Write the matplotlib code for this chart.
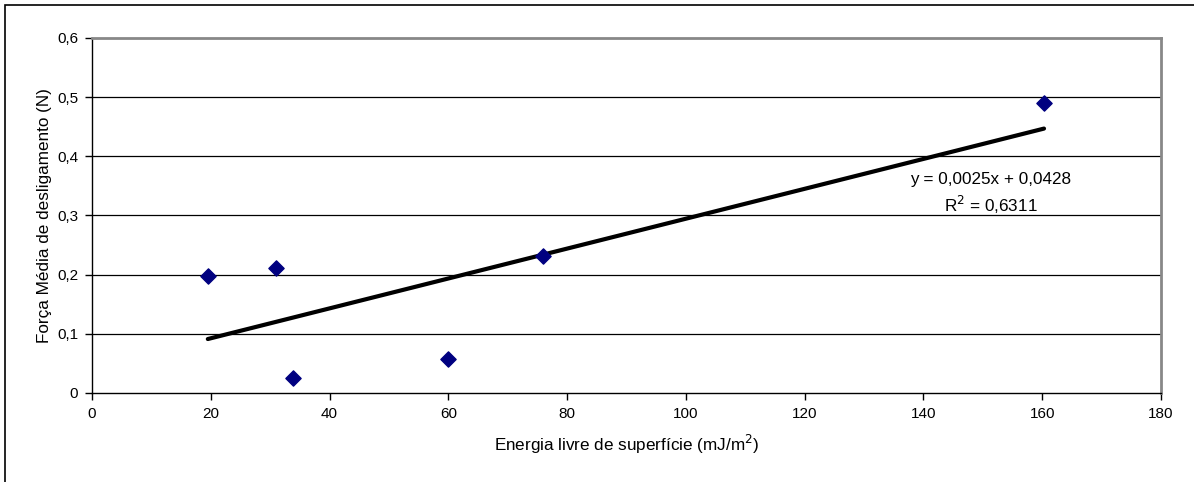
import numpy as np
import matplotlib.pyplot as plt
from matplotlib.patches import Rectangle

plt.rcParams['font.family'] = ['Liberation Sans', 'DejaVu Sans']

# Data
energia = [19.5, 30.9, 33.9, 60.0, 75.9, 160.3]
forca = [0.197, 0.211, 0.026, 0.058, 0.231, 0.490]
x_ticks = [0, 20, 40, 60, 80, 100, 120, 140, 160, 180]
y_ticks = [0, 0.1, 0.2, 0.3, 0.4, 0.5, 0.6]

W, H = 1194, 482
fig = plt.figure(figsize=(W / 100, H / 100), dpi=100)

# outer chart border (only left and top edges are visible)
fig.patches.append(Rectangle((5 / W, -0.1), 1.2, 1 - 5 / H + 0.1,
                             transform=fig.transFigure, fill=False,
                             edgecolor='black', linewidth=1.2))

ax = fig.add_axes([92 / W, 1 - 393 / H, (1161 - 92) / W, (393 - 38) / H])

for yv in y_ticks[1:-1]:
    ax.axhline(yv, color='black', linewidth=0.9, zorder=1)

# linear trend line
slope, intercept = np.polyfit(energia, forca, 1)
xs = np.array([min(energia), max(energia)])
ax.plot(xs, slope * xs + intercept, color='black', linewidth=3,
        solid_capstyle='round', zorder=2)

ax.scatter(energia, forca, marker='D', s=60, color='#000080', zorder=3)

ax.set_xlim(0, 180)
ax.set_ylim(0, 0.6)
ax.set_xticks(x_ticks)
ax.set_yticks(y_ticks)
ax.set_xticklabels([str(v) for v in x_ticks], fontsize=11)
ax.set_yticklabels(['0' if v == 0 else f"{v:.1f}".replace('.', ',') for v in y_ticks],
                   fontsize=11)
ax.tick_params(direction='out', length=5, width=1, color='black', pad=5)

for side in ['top', 'right']:
    ax.spines[side].set_color('#888888')
    ax.spines[side].set_linewidth(2)
for side in ['left', 'bottom']:
    ax.spines[side].set_color('black')
    ax.spines[side].set_linewidth(1)

ax.set_xlabel('Energia livre de superfície (mJ/m$^2$)', fontsize=12.3, labelpad=9)
ax.set_ylabel('Força Média de desligamento (N)', fontsize=12.3, labelpad=3.5)

ax.text(151.3, 0.361, 'y = 0,0025x + 0,0428', fontsize=12.3, ha='center', va='center')
ax.text(151.3, 0.317, 'R$^2$ = 0,6311', fontsize=12.3, ha='center', va='center')

plt.savefig('out.png', dpi=100)
